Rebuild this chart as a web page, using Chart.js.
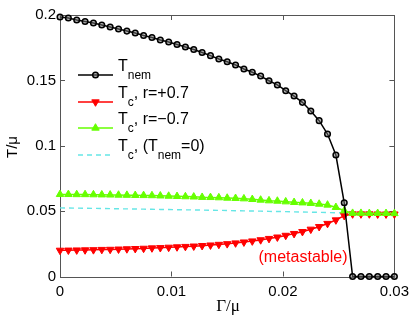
<!DOCTYPE html>
<html>
<head>
<meta charset="utf-8">
<script src="https://cdn.jsdelivr.net/npm/chart.js@4.4.1/dist/chart.umd.min.js"></script>
<style>
  html, body { margin: 0; padding: 0; background: #fff; }
</style>
</head>
<body>
<canvas id="chart" width="415" height="317"></canvas>
<script>
// Gamma/mu grid
const gamma = [0, 0.00075, 0.0015, 0.00225, 0.003, 0.00375, 0.0045, 0.00525, 0.006, 0.00675,
  0.0075, 0.00825, 0.009, 0.00975, 0.0105, 0.01125, 0.012, 0.01275, 0.0135, 0.01425,
  0.015, 0.01575, 0.0165, 0.01725, 0.018, 0.01875, 0.0195, 0.02025, 0.021, 0.02175,
  0.0225, 0.02325, 0.024, 0.02475, 0.0255, 0.02625, 0.027, 0.02775, 0.0285, 0.02925, 0.03];

const tNem = [0.1985, 0.1977, 0.1962, 0.1950, 0.1939, 0.1923, 0.1908, 0.1893, 0.1877, 0.1862,
  0.1843, 0.1828, 0.1809, 0.1793, 0.1774, 0.1755, 0.1736, 0.1713, 0.1689, 0.1663,
  0.1643, 0.1618, 0.1587, 0.1562, 0.1533, 0.1497, 0.1465, 0.1421, 0.1380, 0.1332,
  0.1266, 0.1192, 0.1090, 0.0929, 0.0564, 0, 0, 0, 0, 0, 0];

const tcPlus = [0.0200, 0.0201, 0.0202, 0.0203, 0.0204, 0.0206, 0.0207, 0.0209, 0.0211, 0.0213,
  0.0215, 0.0218, 0.0220, 0.0223, 0.0226, 0.0229, 0.0232, 0.0236, 0.0240, 0.0245,
  0.0250, 0.0256, 0.0263, 0.0271, 0.0280, 0.0290, 0.0301, 0.0314, 0.0328, 0.0343,
  0.0361, 0.0381, 0.0405, 0.0432, 0.0465, 0.0478, 0.0478, 0.0478, 0.0477, 0.0477, 0.0477];

const tcMinus = [0.0628, 0.0628, 0.0627, 0.0627, 0.0626, 0.0625, 0.0624, 0.0623, 0.0622, 0.0621,
  0.0620, 0.0619, 0.0617, 0.0615, 0.0613, 0.0611, 0.0609, 0.0606, 0.0605, 0.0603,
  0.0600, 0.0598, 0.0595, 0.0590, 0.0585, 0.0580, 0.0577, 0.0572, 0.0567, 0.0564,
  0.0560, 0.0554, 0.0547, 0.0529, 0.0503, 0.0484, 0.0484, 0.0483, 0.0483, 0.0483, 0.0482];

const tcFree = [0.0525, 0.0524, 0.0523, 0.0522, 0.0521, 0.0520, 0.0519, 0.0518, 0.0517, 0.0516,
  0.0515, 0.0514, 0.0513, 0.0512, 0.0511, 0.0510, 0.0509, 0.0508, 0.0507, 0.0506,
  0.0505, 0.0503, 0.0502, 0.0501, 0.0500, 0.0498, 0.0497, 0.0496, 0.0494, 0.0493,
  0.0492, 0.0491, 0.0489, 0.0488, 0.0487, 0.0486, 0.0485, 0.0484, 0.0483, 0.0482, 0.0481];

const xTicks = [0, 0.01, 0.02, 0.03];
const xTickLabels = ["0", "0.01", "0.02", "0.03"];
const yTicks = [0, 0.05, 0.1, 0.15, 0.2];
const yTickLabels = ["0", "0.05", "0.1", "0.15", "0.2"];

const SANS = "'Liberation Sans', Arial, sans-serif";
const SERIF = "'Liberation Serif', 'Times New Roman', serif";

const toPoints = (ys) => ys.map((y, i) => ({ x: gamma[i], y: y }));

const datasets = [
  {
    label: "Tnem",
    data: toPoints(tNem),
    borderColor: "#000",
    borderWidth: 1.5,
    pointStyle: "circle",
    pointRadius: 2.8,
    pointBorderWidth: 1.5,
    pointBorderColor: "#000",
    pointBackgroundColor: "rgba(120,120,120,0.5)",
    order: 0,
    legendText: [{ t: "T" }, { t: "nem", sub: true }],
  },
  {
    label: "Tc r=+0.7",
    data: toPoints(tcPlus),
    borderColor: "#ff0000",
    borderWidth: 1.5,
    pointStyle: "triangle",
    rotation: 180,
    pointRadius: 4.3,
    pointBorderWidth: 1,
    pointBorderColor: "#ff0000",
    pointBackgroundColor: "#ff0000",
    order: 2,
    legendText: [{ t: "T" }, { t: "c", sub: true }, { t: ", r=+0.7" }],
  },
  {
    label: "Tc r=-0.7",
    data: toPoints(tcMinus),
    borderColor: "#66ff00",
    borderWidth: 1.5,
    pointStyle: "triangle",
    pointRadius: 4.3,
    pointBorderWidth: 1,
    pointBorderColor: "#66ff00",
    pointBackgroundColor: "#66ff00",
    order: 1,
    legendText: [{ t: "T" }, { t: "c", sub: true }, { t: ", r=\u22120.7" }],
  },
  {
    label: "Tc free",
    data: toPoints(tcFree),
    borderColor: "#66e6e6",
    borderWidth: 1.4,
    borderDash: [5, 4],
    pointRadius: 0,
    order: 3,
    legendText: [{ t: "T" }, { t: "c", sub: true }, { t: ", (T" }, { t: "nem", sub: true }, { t: "=0)" }],
  },
];

function drawRich(ctx, parts, x, y) {
  ctx.textBaseline = "middle";
  ctx.textAlign = "left";
  ctx.fillStyle = "#000";
  parts.forEach((p) => {
    ctx.font = (p.sub ? "12px " : "16px ") + SANS;
    ctx.fillText(p.t, x, p.sub ? y + 9 : y);
    x += ctx.measureText(p.t).width;
  });
}

const decorPlugin = {
  id: "decor",
  beforeDatasetsDraw(chart) {
    const { ctx, chartArea: a, scales } = chart;
    ctx.save();
    ctx.strokeStyle = "#555";
    ctx.lineWidth = 1;
    ctx.strokeRect(Math.round(a.left) + 0.5, Math.round(a.top) + 0.5,
      Math.round(a.right - a.left), Math.round(a.bottom - a.top));
    ctx.beginPath();
    xTicks.forEach((v) => {
      const px = Math.round(scales.x.getPixelForValue(v)) + 0.5;
      ctx.moveTo(px, a.bottom); ctx.lineTo(px, a.bottom - 5);
      ctx.moveTo(px, a.top); ctx.lineTo(px, a.top + 5);
    });
    yTicks.forEach((v) => {
      const py = Math.round(scales.y.getPixelForValue(v)) + 0.5;
      ctx.moveTo(a.left, py); ctx.lineTo(a.left + 5, py);
      ctx.moveTo(a.right, py); ctx.lineTo(a.right - 5, py);
    });
    ctx.stroke();
    ctx.restore();
  },
  afterDraw(chart) {
    const { ctx } = chart;
    ctx.save();
    // axis titles
    ctx.fillStyle = "#000";
    ctx.font = "17px " + SERIF;
    ctx.textAlign = "center";
    ctx.textBaseline = "middle";
    ctx.fillText("\u0393/\u03bc", 228, 307);
    ctx.save();
    ctx.translate(13, 147);
    ctx.rotate(-Math.PI / 2);
    ctx.font = "15px " + SANS;
    ctx.fillText("T/\u03bc", 0, 0);
    ctx.restore();

    // annotation
    ctx.fillStyle = "#ff0000";
    ctx.font = "16px " + SANS;
    ctx.fillText("(metastable)", 303, 258);

    // legend
    const lineY = [75, 102, 128, 155];
    chart.data.datasets.forEach((ds, i) => {
      const y = lineY[i];
      ctx.save();
      ctx.strokeStyle = ds.borderColor;
      ctx.lineWidth = ds.borderWidth;
      ctx.setLineDash(ds.borderDash || []);
      ctx.beginPath();
      ctx.moveTo(78, y);
      ctx.lineTo(113, y);
      ctx.stroke();
      ctx.setLineDash([]);
      if (ds.pointRadius > 0) {
        ctx.fillStyle = ds.pointBackgroundColor;
        ctx.strokeStyle = ds.pointBorderColor;
        ctx.lineWidth = ds.pointBorderWidth;
        Chart.helpers.drawPoint(ctx, {
          pointStyle: ds.pointStyle,
          radius: ds.pointRadius,
          rotation: ds.rotation || 0,
          borderWidth: ds.pointBorderWidth,
        }, 95.5, y);
      }
      ctx.restore();
      drawRich(ctx, ds.legendText, 118, y - 8);
    });
    ctx.restore();
  },
};

new Chart(document.getElementById("chart"), {
  type: "line",
  data: { datasets: datasets },
  options: {
    responsive: false,
    animation: false,
    devicePixelRatio: 1,
    layout: { padding: { top: 15, right: 18, left: 0, bottom: 0 } },
    elements: { line: { tension: 0 } },
    datasets: { line: { clip: false } },
    plugins: { legend: { display: false }, tooltip: { enabled: false } },
    scales: {
      x: {
        type: "linear",
        min: 0,
        max: 0.03,
        afterFit: (s) => { s.height = 40.5; },
        afterBuildTicks: (s) => { s.ticks = xTicks.map((v) => ({ value: v })); },
        grid: { display: false, drawTicks: false },
        border: { display: false },
        ticks: {
          padding: 6,
          maxRotation: 0,
          autoSkip: false,
          color: "#000",
          font: { family: SANS, size: 15 },
          callback: (v) => xTickLabels[xTicks.indexOf(v)],
        },
      },
      y: {
        type: "linear",
        min: 0,
        max: 0.2,
        afterFit: (s) => { s.width = 60; },
        afterBuildTicks: (s) => { s.ticks = yTicks.map((v) => ({ value: v })); },
        grid: { display: false, drawTicks: false },
        border: { display: false },
        ticks: {
          padding: 4,
          autoSkip: false,
          color: "#000",
          font: { family: SANS, size: 15 },
          callback: (v) => yTickLabels[yTicks.indexOf(v)],
        },
      },
    },
  },
  plugins: [decorPlugin],
});
</script>
</body>
</html>
